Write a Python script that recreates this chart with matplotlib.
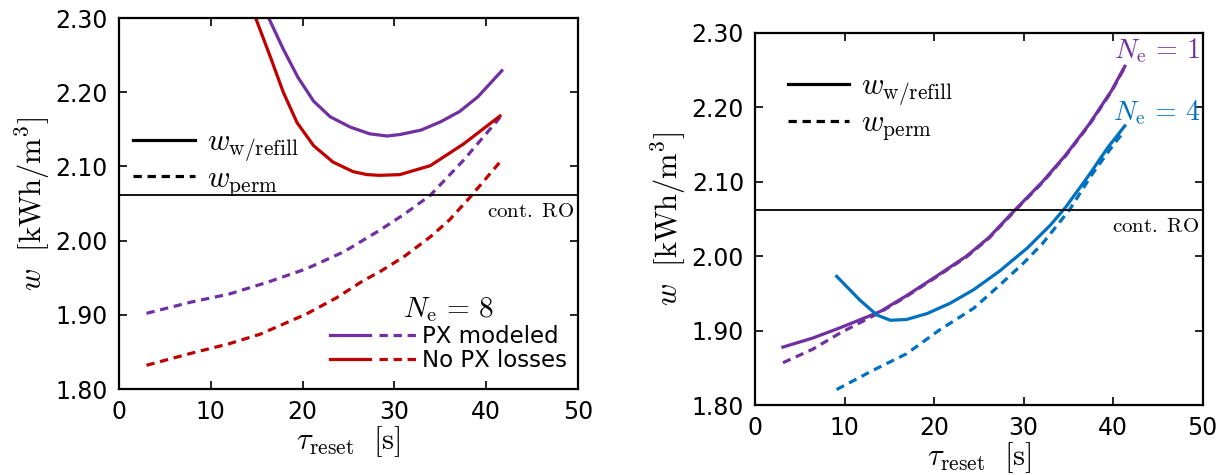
import matplotlib
matplotlib.use('agg')
import matplotlib.pyplot as plt
from matplotlib.legend_handler import HandlerTuple
from matplotlib.lines import Line2D
from matplotlib.ticker import FormatStrFormatter

plt.rcParams['mathtext.fontset'] = 'cm'
plt.rcParams['font.family'] = 'DejaVu Sans'

PURPLE = '#7030a0'
RED = '#c00000'
BLUE = '#0070c0'

W_CONT_RO = 2.062

# left panel, N_e = 8
px_refill_t = [16.2, 17.9, 19.5, 21.2, 23.0, 25.2, 27.3, 29.2, 30.6, 32.9, 35.0, 37.1, 39.1, 41.7]
px_refill_w = [2.303, 2.258, 2.220, 2.188, 2.167, 2.153, 2.144, 2.141, 2.143, 2.149, 2.160, 2.174, 2.194, 2.229]
px_perm_t = [3.0, 7.8, 12.0, 16.2, 20.4, 24.5, 28.4, 31.0, 33.9, 37.5, 41.5]
px_perm_w = [1.902, 1.917, 1.928, 1.944, 1.962, 1.985, 2.014, 2.035, 2.061, 2.108, 2.166]

nopx_refill_t = [14.8, 15.9, 16.6, 17.9, 19.4, 21.2, 23.3, 25.5, 27.0, 28.4, 30.6, 33.9, 37.5, 41.5]
nopx_refill_w = [2.303, 2.267, 2.244, 2.200, 2.159, 2.128, 2.106, 2.093, 2.089, 2.088, 2.089, 2.101, 2.130, 2.168]
nopx_perm_t = [3.0, 7.8, 12.0, 15.4, 20.4, 23.7, 26.6, 28.4, 31.0, 33.9, 36.0, 38.2, 41.5]
nopx_perm_w = [1.832, 1.848, 1.861, 1.874, 1.901, 1.923, 1.946, 1.958, 1.978, 2.005, 2.028, 2.058, 2.106]

# right panel, N_e = 1 and N_e = 4
ne1_refill_t = [3.1, 6.4, 9.5, 12.4, 14.0, 16.9, 20.1, 23.6, 26.1, 29.1, 32.1, 34.7, 37.3, 39.8, 41.3]
ne1_refill_w = [1.878, 1.890, 1.904, 1.918, 1.926, 1.947, 1.972, 2.000, 2.025, 2.063, 2.100, 2.136, 2.177, 2.222, 2.255]
ne1_perm_t = [3.1, 6.4, 9.5, 12.4, 14.0, 16.9, 20.1, 23.6, 26.1, 29.1, 32.1, 34.7, 37.3, 39.8, 41.3]
ne1_perm_w = [1.857, 1.875, 1.897, 1.915, 1.925, 1.946, 1.971, 1.999, 2.024, 2.062, 2.099, 2.135, 2.176, 2.221, 2.254]

ne4_refill_t = [9.1, 11.7, 13.6, 15.1, 16.9, 19.2, 21.8, 24.4, 27.3, 30.4, 33.0, 34.7, 37.3, 39.4, 41.3]
ne4_refill_w = [1.973, 1.941, 1.921, 1.914, 1.915, 1.923, 1.937, 1.955, 1.980, 2.011, 2.042, 2.066, 2.109, 2.146, 2.175]
ne4_perm_t = [9.1, 13.2, 16.9, 20.6, 24.4, 27.3, 30.0, 32.1, 35.1, 37.7, 39.8, 41.1]
ne4_perm_w = [1.821, 1.847, 1.869, 1.901, 1.930, 1.961, 1.991, 2.017, 2.062, 2.111, 2.146, 2.166]

LW = 2.3
DASH = (2.6, 1.8)


def style_axes(ax):
    ax.set_xlim(0, 50)
    ax.set_ylim(1.8, 2.3)
    ax.set_xticks([0, 10, 20, 30, 40, 50])
    ax.set_yticks([1.8, 1.9, 2.0, 2.1, 2.2, 2.3])
    ax.yaxis.set_major_formatter(FormatStrFormatter('%.2f'))
    ax.tick_params(direction='in', top=True, right=True, length=6, width=1.2,
                   labelsize=17, pad=8)
    for s in ax.spines.values():
        s.set_linewidth(1.6)
    ax.set_xlabel(r'$\tau_{\rm reset}\ \ [\rm s]$', fontsize=22, labelpad=0)
    ax.set_ylabel(r'$w\ \ [\rm kWh/m^3]$', fontsize=22, labelpad=2)
    ax.axhline(W_CONT_RO, color='black', lw=1.3)
    ax.text(49.6, W_CONT_RO - 0.008, r'$\rm cont.\ RO$', ha='right', va='top', fontsize=15)


def wlegend(ax, anchor):
    h = [Line2D([], [], color='black', lw=LW),
         Line2D([], [], color='black', lw=LW, dashes=DASH)]
    leg = ax.legend(h, [r'$w_{\rm w/refill}$', r'$w_{\rm perm}$'], loc='center left',
                    bbox_to_anchor=anchor, frameon=False, fontsize=22,
                    handlelength=2.0, handletextpad=0.4, labelspacing=0.0,
                    borderaxespad=0.0)
    return leg


fig = plt.figure(figsize=(12.26, 4.75), dpi=100)
ax1 = fig.add_axes([0.097, 0.181, 0.3745, 0.781])
ax2 = fig.add_axes([0.616, 0.147, 0.365, 0.784])

# left
ax1.plot(px_refill_t, px_refill_w, color=PURPLE, lw=LW)
ax1.plot(px_perm_t, px_perm_w, color=PURPLE, lw=LW, dashes=DASH)
ax1.plot(nopx_refill_t, nopx_refill_w, color=RED, lw=LW)
ax1.plot(nopx_perm_t, nopx_perm_w, color=RED, lw=LW, dashes=DASH)
style_axes(ax1)
leg1 = wlegend(ax1, (0.005, 0.61))
ax1.add_artist(leg1)

hp = (Line2D([], [], color=PURPLE, lw=LW), Line2D([], [], color=PURPLE, lw=LW, dashes=DASH))
hr = (Line2D([], [], color=RED, lw=LW), Line2D([], [], color=RED, lw=LW, dashes=DASH))
leg2 = ax1.legend([hp, hr], ['PX modeled', 'No PX losses'], loc='lower right',
                  bbox_to_anchor=(1.0, 0.015), frameon=False, fontsize=16.5,
                  handler_map={tuple: HandlerTuple(ndivide=None, pad=0.4)},
                  handlelength=3.9, handletextpad=0.1, labelspacing=0.05,
                  borderaxespad=0.1, title=r'$N_{\rm e}\,=\,8$', title_fontsize=21)

# right
ax2.plot(ne1_perm_t, ne1_perm_w, color=PURPLE, lw=LW, dashes=DASH)
ax2.plot(ne1_refill_t, ne1_refill_w, color=PURPLE, lw=LW)
ax2.plot(ne4_perm_t, ne4_perm_w, color=BLUE, lw=LW, dashes=DASH)
ax2.plot(ne4_refill_t, ne4_refill_w, color=BLUE, lw=LW)
style_axes(ax2)
wlegend(ax2, (0.045, 0.80))
ax2.text(49.7, 2.276, r'$N_{\rm e}\,=\,1$', color=PURPLE, ha='right', va='center', fontsize=20)
ax2.text(49.7, 2.193, r'$N_{\rm e}\,=\,4$', color=BLUE, ha='right', va='center', fontsize=20)

fig.savefig('out.png', dpi=100)
